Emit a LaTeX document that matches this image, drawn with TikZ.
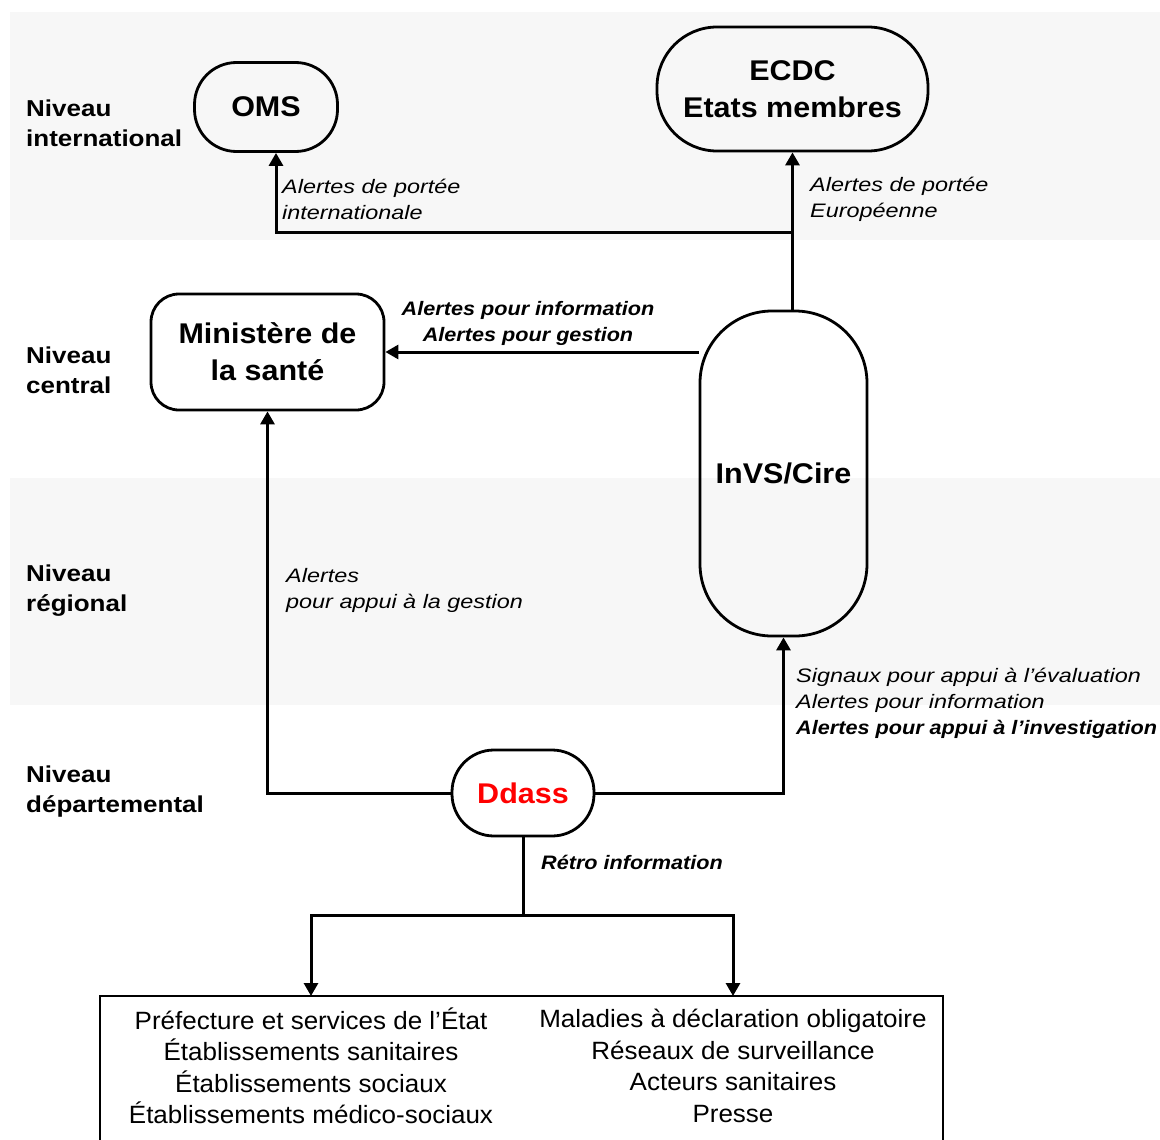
\documentclass[tikz,border=0pt]{standalone}
\usepackage{fontspec}
\setmainfont{Liberation Sans}
\newfontfamily\lvlf[FakeStretch=1.13]{Liberation Sans}
\newfontfamily\nodef[FakeStretch=1.07]{Liberation Sans}
\newfontfamily\labf[FakeStretch=1.2]{Liberation Sans}
\newfontfamily\labbf[FakeStretch=1.11]{Liberation Sans}
\newfontfamily\boxf[FakeStretch=1.04]{Liberation Sans}
\usetikzlibrary{arrows.meta}
\definecolor{bandgray}{RGB}{247,247,247}
\begin{document}
\begin{tikzpicture}[x=1pt,y=-1pt,
  nbox/.style={draw, line width=2.8pt, rounded corners=#1, inner sep=0pt, align=center,
    font={\nodef\fontsize{28.5}{37}\selectfont\bfseries}},
  ln/.style={line width=3pt},
  arr/.style={line width=3pt, -{Triangle[width=14pt,length=13pt]}},
  lvl/.style={anchor=west, align=left, inner sep=0pt, font={\lvlf\fontsize{23}{30}\selectfont\bfseries}},
  lab/.style={anchor=west, align=left, inner sep=0pt, font={\labf\fontsize{19.5}{26}\selectfont\itshape}},
  labb/.style={inner sep=0pt, align=center, font={\labbf\fontsize{19.5}{26}\selectfont\bfseries\itshape}},
  btxt/.style={inner sep=0pt, align=center, font={\boxf\fontsize{25}{31.5}\selectfont}}
]
\useasboundingbox (0,0) rectangle (1160,1140);
% background bands
\fill[bandgray] (10,12) rectangle (1160,240);
\fill[bandgray] (10,478) rectangle (1160,705);

% level labels
\node[lvl] (lv1) at (26,123) {Niveau\\international};
\node[lvl] (lv2) at (26,370.5) {Niveau\\central};
\node[lvl] (lv3) at (26,590.5) {Niveau\\régional};
\node[lvl] (lv4) at (26,792) {Niveau\\départemental};

% main nodes
\node[nbox=42pt, minimum width=143pt, minimum height=89pt] (oms) at (266,107) {OMS};
\node[nbox=60pt, minimum width=271pt, minimum height=124pt] (ecdc) at (792.5,89) {ECDC\\Etats membres};
\node[nbox=28pt, minimum width=233pt, minimum height=116pt] (min) at (267.5,352) {Ministère de\\la santé};
\node[nbox=72pt, minimum width=167pt, minimum height=325pt] (invs) at (783.5,473.5) {InVS/Cire};
\node[nbox=42pt, minimum width=142pt, minimum height=86pt, text=red] (ddass) at (523,793) {Ddass};

% bottom box
\coordinate (btl) at (100,996);
\draw[line width=1.3pt] (100,1145) -- (btl) -- (943,996) -- (943,1145);
\node[btxt] (lt) at (311,1066) {Préfecture et services de l’État\\Établissements sanitaires\\Établissements sociaux\\Établissements médico-sociaux};
\node[btxt] (rt) at (733,1066) {Maladies à déclaration obligatoire\\Réseaux de surveillance\\Acteurs sanitaires\\Presse};

% connectors
\coordinate (jn) at (792.5,232);
\draw[arr] (invs.north -| ecdc.south) -- (ecdc.south);
\draw[arr] (jn) -| ([xshift=10pt]oms.south);
\draw[arr] (invs.west |- min.east) -- (min.east);
\draw[arr] (ddass.west) -| (min.south);
\draw[arr] (ddass.east) -| (invs.south);
\coordinate (split) at (523,915);
\draw[ln] (ddass.south) -- (split);
\draw[arr] (split) -| (lt.center |- btl);
\draw[arr] (split) -| (rt.center |- btl);

% connector labels
\node[lab] (la1) at (282,199) {Alertes de portée\\internationale};
\node[lab] (la2) at (810,199) {Alertes de portée\\Européenne};
\node[labb] (la3) at (528,323) {Alertes pour information\\Alertes pour gestion};
\node[lab] (la4) at (286,590) {Alertes\\pour appui à la gestion};
\node[lab] (la5) at (796,703.5) {Signaux pour appui à l’évaluation\\Alertes pour information\\{\labbf\bfseries\itshape Alertes pour appui à l’investigation}};
\node[labb, anchor=west] (la6) at (541,862) {Rétro information};
\end{tikzpicture}
\end{document}
